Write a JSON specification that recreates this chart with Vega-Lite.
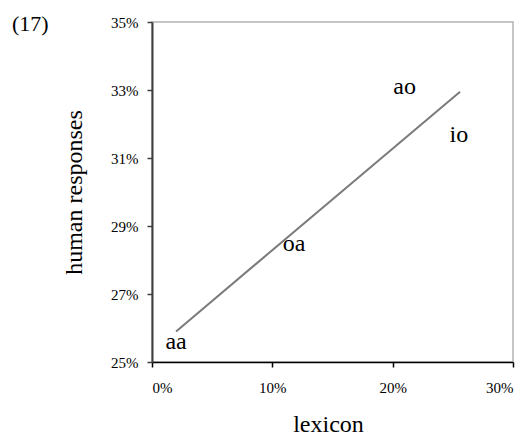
{
  "$schema": "https://vega.github.io/schema/vega-lite/v6.json",
  "width": 361,
  "height": 340,
  "autosize": "none",
  "padding": {"left": 152, "top": 22, "right": 16, "bottom": 74},
  "background": "white",
  "title": {
    "text": "(17)",
    "anchor": "start",
    "frame": "group",
    "font": "Liberation Serif",
    "fontSize": 22,
    "fontWeight": "normal",
    "color": "black",
    "baseline": "alphabetic",
    "offset": 0,
    "dx": -140,
    "dy": 38
  },
  "config": {
    "view": {"stroke": "#b3b3b3", "strokeWidth": 1.5},
    "font": "Liberation Serif",
    "axis": {
      "grid": false,
      "labelFont": "Liberation Serif",
      "titleFont": "Liberation Serif",
      "labelFontSize": 15,
      "titleFontSize": 24,
      "titleFontWeight": "normal",
      "labelColor": "black",
      "titleColor": "black",
      "tickSize": 5
    }
  },
  "datasets": {
    "trend": [
      {"lexicon": 0.020, "human": 0.2590},
      {"lexicon": 0.256, "human": 0.3295}
    ],
    "points": [
      {"label": "aa", "lexicon": 0.020, "human": 0.2558},
      {"label": "oa", "lexicon": 0.118, "human": 0.2847},
      {"label": "ao", "lexicon": 0.210, "human": 0.3310},
      {"label": "io", "lexicon": 0.255, "human": 0.3169}
    ]
  },
  "layer": [
    {
      "data": {"name": "trend"},
      "mark": {"type": "line", "color": "#7a7a7a", "strokeWidth": 2},
      "encoding": {
        "x": {
          "field": "lexicon",
          "type": "quantitative",
          "scale": {"domain": [0, 0.3], "nice": false, "zero": false},
          "axis": {
            "title": "lexicon",
            "values": [0, 0.1, 0.2, 0.3],
            "format": ".0%",
            "domainColor": "black",
            "domainWidth": 1.5,
            "tickColor": "black",
            "tickWidth": 1.5,
            "labelPadding": 13,
            "titleX": 176,
            "titleY": 69,
            "titleBaseline": "alphabetic"
          }
        },
        "y": {
          "field": "human",
          "type": "quantitative",
          "scale": {"domain": [0.25, 0.35], "nice": false, "zero": false},
          "axis": {
            "title": "human responses",
            "values": [0.25, 0.27, 0.29, 0.31, 0.33, 0.35],
            "format": ".0%",
            "domainColor": "#404040",
            "domainWidth": 2,
            "tickColor": "#404040",
            "tickWidth": 1.5,
            "labelPadding": 9,
            "titleX": -71,
            "titleY": 170,
            "titleBaseline": "alphabetic"
          }
        }
      }
    },
    {
      "data": {"name": "points"},
      "mark": {"type": "text", "fontSize": 24, "baseline": "middle", "align": "center", "font": "Liberation Serif", "color": "black"},
      "encoding": {
        "x": {"field": "lexicon", "type": "quantitative"},
        "y": {"field": "human", "type": "quantitative"},
        "text": {"field": "label"}
      }
    }
  ]
}
